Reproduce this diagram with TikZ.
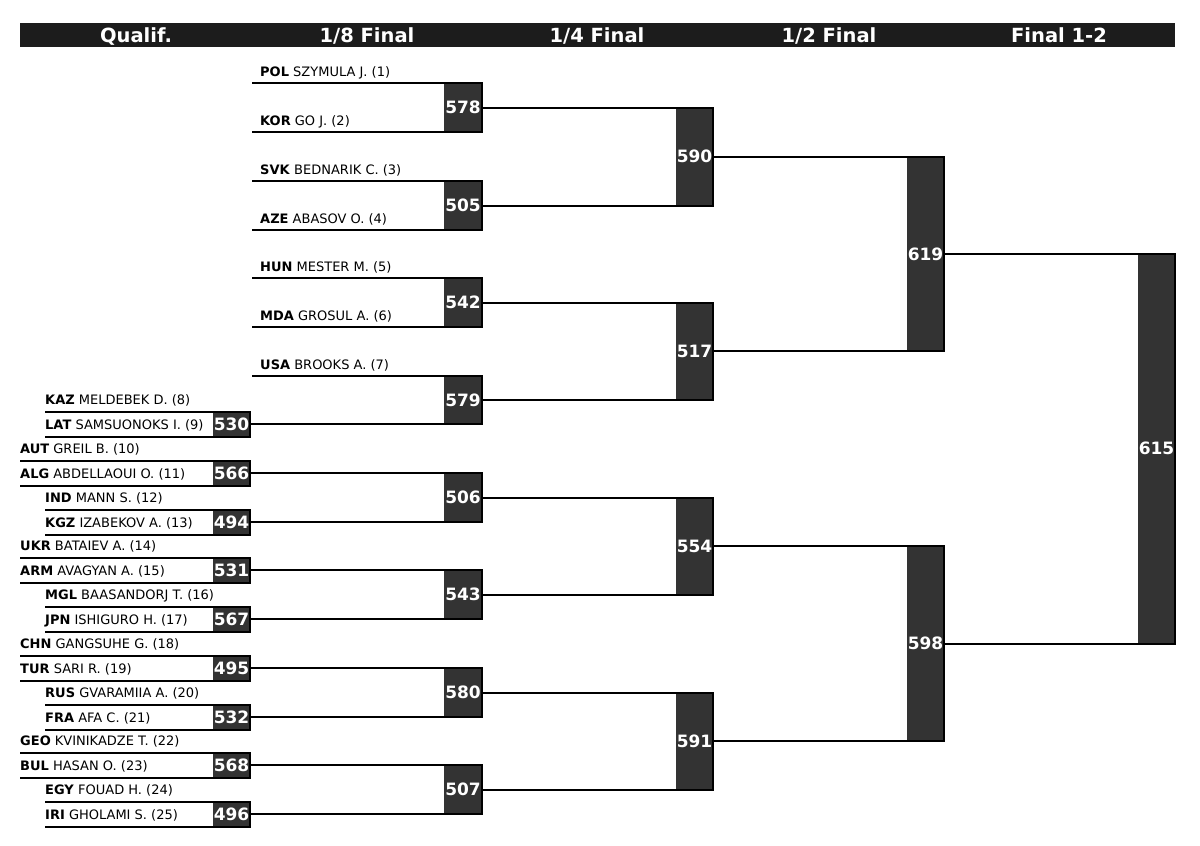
\documentclass[tikz,border=0pt]{standalone}
\usepackage{fontspec}
\setmainfont{DejaVu Sans}
\definecolor{barblack}{HTML}{1C1C1C}
\definecolor{boxgray}{HTML}{333333}
\tikzset{
  headbar/.style={fill=barblack},
  head/.style={text=white, anchor=base, inner sep=0pt, font=\bfseries\fontsize{19.5}{22}\selectfont},
  score/.style={fill=boxgray, text=white, inner sep=0pt, outer sep=0pt, font=\bfseries\fontsize{17}{20}\selectfont},
  qscore/.style={score, minimum width=37, minimum height=25},
  entry/.style={anchor=base west, inner sep=0pt, font=\fontsize{13}{15}\selectfont},
  wire/.style={line width=2pt},
}

\begin{document}
\begin{tikzpicture}[x=1pt, y=-1pt]
        \useasboundingbox (0,0) rectangle (1200,846);
        \fill[headbar] (20,23) rectangle (1175,47);
        \node[head] (hq) at (136,42) {Qualif.};
        \node[head] (h8) at (367,42) {1/8 Final};
        \node[head] (h4) at (597,42) {1/4 Final};
        \node[head] (h2) at (829,42) {1/2 Final};
        \node[head] (hf) at (1059,42) {Final 1-2};

        \coordinate (e1) at (252,83);
        \coordinate (e2) at (252,132);
        \coordinate (e3) at (252,181);
        \coordinate (e4) at (252,230);
        \coordinate (e5) at (252,278);
        \coordinate (e6) at (252,327);
        \coordinate (e7) at (252,376);
        \node[entry] (n1) at (260,76) {\textbf{POL} SZYMULA J. (1)};
        \node[entry] (n2) at (260,125) {\textbf{KOR} GO J. (2)};
        \node[entry] (n3) at (260,174) {\textbf{SVK} BEDNARIK C. (3)};
        \node[entry] (n4) at (260,223) {\textbf{AZE} ABASOV O. (4)};
        \node[entry] (n5) at (260,271) {\textbf{HUN} MESTER M. (5)};
        \node[entry] (n6) at (260,320) {\textbf{MDA} GROSUL A. (6)};
        \node[entry] (n7) at (260,369) {\textbf{USA} BROOKS A. (7)};

        \coordinate (e8) at (45,411.5);
        \coordinate (e9) at (45,436.5);
        \coordinate (e10) at (20,460.5);
        \coordinate (e11) at (20,485.5);
        \coordinate (e12) at (45,509.5);
        \coordinate (e13) at (45,534.5);
        \coordinate (e14) at (20,557.5);
        \coordinate (e15) at (20,582.5);
        \coordinate (e16) at (45,606.5);
        \coordinate (e17) at (45,631.5);
        \coordinate (e18) at (20,655.5);
        \coordinate (e19) at (20,680.5);
        \coordinate (e20) at (45,704.5);
        \coordinate (e21) at (45,729.5);
        \coordinate (e22) at (20,752.5);
        \coordinate (e23) at (20,777.5);
        \coordinate (e24) at (45,801.5);
        \coordinate (e25) at (45,826.5);
        \node[entry] (n8) at (45,404.5) {\textbf{KAZ} MELDEBEK D. (8)};
        \node[entry] (n9) at (45,429.5) {\textbf{LAT} SAMSUONOKS I. (9)};
        \node[entry] (n10) at (20,453.5) {\textbf{AUT} GREIL B. (10)};
        \node[entry] (n11) at (20,478.5) {\textbf{ALG} ABDELLAOUI O. (11)};
        \node[entry] (n12) at (45,502.5) {\textbf{IND} MANN S. (12)};
        \node[entry] (n13) at (45,527.5) {\textbf{KGZ} IZABEKOV A. (13)};
        \node[entry] (n14) at (20,550.5) {\textbf{UKR} BATAIEV A. (14)};
        \node[entry] (n15) at (20,575.5) {\textbf{ARM} AVAGYAN A. (15)};
        \node[entry] (n16) at (45,599.5) {\textbf{MGL} BAASANDORJ T. (16)};
        \node[entry] (n17) at (45,624.5) {\textbf{JPN} ISHIGURO H. (17)};
        \node[entry] (n18) at (20,648.5) {\textbf{CHN} GANGSUHE G. (18)};
        \node[entry] (n19) at (20,673.5) {\textbf{TUR} SARI R. (19)};
        \node[entry] (n20) at (45,697.5) {\textbf{RUS} GVARAMIIA A. (20)};
        \node[entry] (n21) at (45,722.5) {\textbf{FRA} AFA C. (21)};
        \node[entry] (n22) at (20,745.5) {\textbf{GEO} KVINIKADZE T. (22)};
        \node[entry] (n23) at (20,770.5) {\textbf{BUL} HASAN O. (23)};
        \node[entry] (n24) at (45,794.5) {\textbf{EGY} FOUAD H. (24)};
        \node[entry] (n25) at (45,819.5) {\textbf{IRI} GHOLAMI S. (25)};

        \node[qscore] (q530) at (231.5,424) {530};
        \node[qscore] (q566) at (231.5,473) {566};
        \node[qscore] (q494) at (231.5,522) {494};
        \node[qscore] (q531) at (231.5,570) {531};
        \node[qscore] (q567) at (231.5,619) {567};
        \node[qscore] (q495) at (231.5,668) {495};
        \node[qscore] (q532) at (231.5,717) {532};
        \node[qscore] (q568) at (231.5,765) {568};
        \node[qscore] (q496) at (231.5,814) {496};

        \node[score, minimum width=38, minimum height=49] (b578) at (463,107.5) {578};
        \node[score, minimum width=38, minimum height=49] (b505) at (463,205.5) {505};
        \node[score, minimum width=38, minimum height=49] (b542) at (463,302.5) {542};
        \node[score, minimum width=38, minimum height=48] (b579) at (463,400) {579};
        \node[score, minimum width=38, minimum height=49] (b506) at (463,497.5) {506};
        \node[score, minimum width=38, minimum height=49] (b543) at (463,594.5) {543};
        \node[score, minimum width=38, minimum height=49] (b580) at (463,692.5) {580};
        \node[score, minimum width=38, minimum height=49] (b507) at (463,789.5) {507};

        \node[score, minimum width=37, minimum height=98] (c590) at (694.5,156.5) {590};
        \node[score, minimum width=37, minimum height=97.5] (c517) at (694.5,351.25) {517};
        \node[score, minimum width=37, minimum height=97] (c554) at (694.5,546) {554};
        \node[score, minimum width=37, minimum height=97] (c591) at (694.5,741) {591};

        \node[score, minimum width=37, minimum height=194.75] (d619) at (925.5,253.875) {619};
        \node[score, minimum width=37, minimum height=195] (d598) at (925.5,643.5) {598};

        \node[score, minimum width=37, minimum height=389.625] (f615) at (1156.5,448.6875) {615};

        \draw[wire] (e8) -- (q530.north east) -- (q530.south east) -- (e9);
        \draw[wire] (e10) -- (q566.north east) -- (q566.south east) -- (e11);
        \draw[wire] (e12) -- (q494.north east) -- (q494.south east) -- (e13);
        \draw[wire] (e14) -- (q531.north east) -- (q531.south east) -- (e15);
        \draw[wire] (e16) -- (q567.north east) -- (q567.south east) -- (e17);
        \draw[wire] (e18) -- (q495.north east) -- (q495.south east) -- (e19);
        \draw[wire] (e20) -- (q532.north east) -- (q532.south east) -- (e21);
        \draw[wire] (e22) -- (q568.north east) -- (q568.south east) -- (e23);
        \draw[wire] (e24) -- (q496.north east) -- (q496.south east) -- (e25);

        \draw[wire] (e1) -- (b578.north east) -- (b578.south east) -- (e2);
        \draw[wire] (e3) -- (b505.north east) -- (b505.south east) -- (e4);
        \draw[wire] (e5) -- (b542.north east) -- (b542.south east) -- (e6);
        \draw[wire] (e7) -- (b579.north east) -- (b579.south east) -- (q530.east);
        \draw[wire] (q566.east) -- (b506.north east) -- (b506.south east) -- (q494.east);
        \draw[wire] (q531.east) -- (b543.north east) -- (b543.south east) -- (q567.east);
        \draw[wire] (q495.east) -- (b580.north east) -- (b580.south east) -- (q532.east);
        \draw[wire] (q568.east) -- (b507.north east) -- (b507.south east) -- (q496.east);

        \draw[wire] (b578.east) -- (c590.north east) -- (c590.south east) -- (b505.east);
        \draw[wire] (b542.east) -- (c517.north east) -- (c517.south east) -- (b579.east);
        \draw[wire] (b506.east) -- (c554.north east) -- (c554.south east) -- (b543.east);
        \draw[wire] (b580.east) -- (c591.north east) -- (c591.south east) -- (b507.east);

        \draw[wire] (c590.east) -- (d619.north east) -- (d619.south east) -- (c517.east);
        \draw[wire] (c554.east) -- (d598.north east) -- (d598.south east) -- (c591.east);

        \draw[wire] (d619.east) -- (f615.north east) -- (f615.south east) -- (d598.east);
\end{tikzpicture}
\end{document}
